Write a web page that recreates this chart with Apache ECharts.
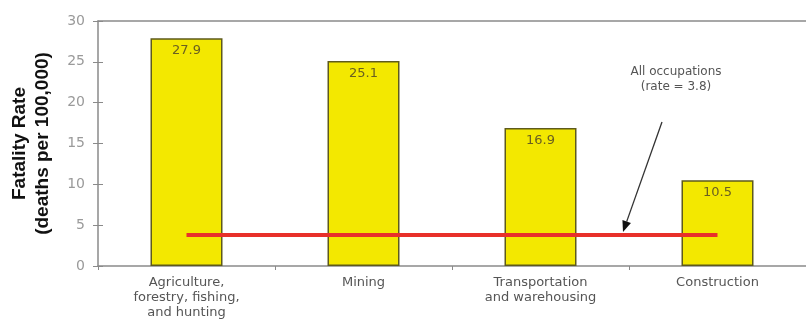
<!DOCTYPE html>
<html>
<head>
<meta charset="utf-8">
<script src="https://cdn.jsdelivr.net/npm/echarts@6/dist/echarts.min.js"></script>
<style>
  html, body { margin: 0; padding: 0; background: #fff; }
  #chart { width: 806px; height: 329px; }
</style>
</head>
<body>
<div id="chart"></div>
<script>
// data
var categories = [
  'Agriculture,\nforestry, fishing,\nand hunting',
  'Mining',
  'Transportation\nand warehousing',
  'Construction'
];
var rates = [27.9, 25.1, 16.9, 10.5];
var allOccupationsRate = 3.8;
var yTicks = [0, 5, 10, 15, 20, 25, 30];

var chart = echarts.init(document.getElementById('chart'));

var font = '"DejaVu Sans", Verdana, sans-serif';
var axisGray = '#8a8a8a';

var option = {
  animation: false,
  backgroundColor: '#fff',
  grid: {
    left: 98,
    top: 21,
    width: 716,
    height: 245
  },
  xAxis: [
    {
      type: 'category',
      data: categories,
      axisLine: { show: true, onZero: false, lineStyle: { color: axisGray, width: 1.5 } },
      axisTick: { show: true, length: 4, lineStyle: { color: axisGray } },
      axisLabel: {
        color: '#555',
        fontFamily: font,
        fontSize: 13,
        lineHeight: 15,
        margin: 9
      }
    },
    {
      type: 'category',
      position: 'top',
      data: categories,
      axisLine: { show: true, onZero: false, lineStyle: { color: axisGray, width: 1.5 } },
      axisTick: { show: false },
      axisLabel: { show: false }
    }
  ],
  yAxis: [
    {
      type: 'value',
      min: yTicks[0],
      max: yTicks[yTicks.length - 1],
      interval: 5,
      name: 'Fatality Rate\n(deaths per 100,000)',
      nameLocation: 'middle',
      nameGap: 44,
      nameTextStyle: {
        color: '#111',
        fontFamily: 'Liberation Sans, Arial, sans-serif',
        fontSize: 19,
        fontWeight: 'bold',
        lineHeight: 23
      },
      axisLine: { show: true, lineStyle: { color: axisGray, width: 1.5 } },
      axisTick: { show: true, length: 5, lineStyle: { color: axisGray } },
      axisLabel: {
        color: '#9a9a9a',
        fontFamily: font,
        fontSize: 14,
        margin: 13
      },
      splitLine: { show: false }
    },
    {
      type: 'value',
      position: 'left',
      min: yTicks[0],
      max: yTicks[yTicks.length - 1],
      interval: 5,
      axisLine: { show: false },
      axisTick: { show: true, inside: true, length: 5, lineStyle: { color: axisGray } },
      axisLabel: { show: false },
      splitLine: { show: false }
    }
  ],
  series: [
    {
      type: 'bar',
      data: rates,
      barWidth: 72,
      itemStyle: {
        color: '#f3e800',
        borderColor: '#5e5a1c',
        borderWidth: 1.5
      },
      label: {
        show: true,
        position: 'insideTop',
        distance: 6,
        color: '#6a6020',
        fontFamily: font,
        fontSize: 13
      }
    },
    {
      type: 'line',
      data: categories.map(function () { return allOccupationsRate; }),
      symbol: 'none',
      lineStyle: { color: '#e8302a', width: 4 },
      z: 5
    }
  ]
};

chart.setOption(option);

// annotation: text and arrow pointing at the all-occupations line
var lineY = chart.convertToPixel({ yAxisIndex: 0 }, allOccupationsRate);
var tip = [623, lineY - 3];
var start = [662, 122];
var dx = tip[0] - start[0], dy = tip[1] - start[1];
var len = Math.sqrt(dx * dx + dy * dy);
var ux = dx / len, uy = dy / len;
var headLen = 11, headHalf = 4.5;
var bx = tip[0] - ux * headLen, by = tip[1] - uy * headLen;

chart.setOption({
  graphic: [
    {
      type: 'text',
      x: 676,
      y: 64,
      style: {
        text: 'All occupations\n(rate = 3.8)',
        align: 'center',
        fill: '#555',
        font: '12px ' + font,
        lineHeight: 15
      },
      z: 20
    },
    {
      type: 'line',
      shape: { x1: start[0], y1: start[1], x2: bx, y2: by },
      style: { stroke: '#333', lineWidth: 1.3 },
      z: 20
    },
    {
      type: 'polygon',
      shape: {
        points: [
          tip,
          [bx - uy * headHalf, by + ux * headHalf],
          [bx + uy * headHalf, by - ux * headHalf]
        ]
      },
      style: { fill: '#111' },
      z: 20
    }
  ]
});
</script>
</body>
</html>
